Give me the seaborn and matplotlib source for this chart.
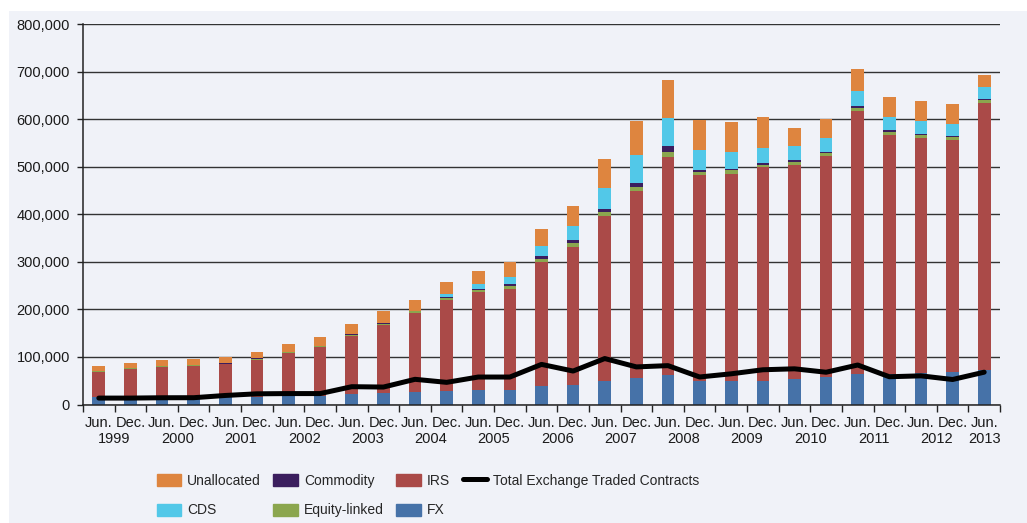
import numpy as np
import pandas as pd
import matplotlib.pyplot as plt
import seaborn as sns
from matplotlib.patches import Patch, Rectangle
from matplotlib.lines import Line2D
from matplotlib import font_manager
from matplotlib.ticker import FuncFormatter

# Semiannual periods, Jun. 1999 - Jun. 2013 (notional amounts, USD bn)
periods = [f'{h} {y}' for y in range(1999, 2014) for h in ('Jun.', 'Dec.')][:-1]
halves = [p.split()[0] for p in periods]
years = [str(y) for y in range(1999, 2014)]

fx = [14899, 14344, 15494, 15666, 16910, 16748, 18068, 18448, 22071, 24475,
      26997, 29289, 31081, 31364, 38127, 40271, 48645, 56238, 62983, 50042,
      48732, 49181, 53153, 57796, 64698, 63349, 66645, 67358, 73121]
irs = [54072, 60091, 64125, 64668, 67465, 77568, 89955, 101658, 121799, 141991,
       164626, 190502, 204795, 211970, 261960, 291581, 347312, 393138, 458304, 432657,
       437228, 449875, 451831, 465260, 553240, 504117, 494018, 489703, 561299]
equity = [1511, 1809, 1645, 1891, 1884, 1881, 2214, 2309, 2799, 3787,
          4521, 4385, 4551, 5793, 6782, 7488, 8590, 8469, 10177, 6471,
          6584, 5937, 6260, 5635, 6841, 5982, 6313, 6251, 6821]
commodity = [441, 548, 584, 662, 590, 598, 777, 923, 1040, 1406,
             1270, 1443, 2940, 5434, 6394, 7115, 7567, 8455, 13229, 4427,
             3619, 2944, 2852, 2922, 3197, 3091, 2994, 2587, 2458]
cds = [0, 0, 0, 0, 0, 0, 0, 0, 0, 0,
       0, 6396, 10211, 13908, 20352, 28650, 42580, 58244, 57403, 41883,
       36046, 32693, 30261, 29898, 32409, 28626, 26931, 25069, 24349]
unallocated = [10535, 11410, 12160, 12312, 12906, 14383, 16495, 18327, 21949, 25508,
               22644, 26613, 27915, 30791, 36563, 43026, 61713, 71194, 81718, 62667,
               62286, 63270, 38328, 39535, 46499, 42597, 42027, 41614, 24860]
exchange = [13500, 13500, 14200, 14300, 19000, 22500, 23000, 23000, 37500, 36700,
            53000, 46600, 57800, 57800, 84400, 70400, 96700, 79100, 81800, 57900,
            64600, 73100, 75100, 67900, 83100, 58400, 60300, 52600, 68000]

df = pd.DataFrame({'period': periods, 'FX': fx, 'IRS': irs, 'Equity-linked': equity,
                   'Commodity': commodity, 'CDS': cds, 'Unallocated': unallocated})
layers = ['FX', 'IRS', 'Equity-linked', 'Commodity', 'CDS', 'Unallocated']
colors = {'FX': '#4672a8', 'IRS': '#aa4a48', 'Equity-linked': '#8ba64e',
          'Commodity': '#3b1e5e', 'CDS': '#52c8e8', 'Unallocated': '#de853f'}
cum = df[layers].cumsum(axis=1)

sns.set_style('ticks')
plt.rcParams['font.family'] = ['Liberation Sans', 'DejaVu Sans']
names = {f.name for f in font_manager.fontManager.ttflist}
narrow = 'Liberation Sans Narrow' in names
legend_font = 'Liberation Sans Narrow' if narrow else 'Liberation Sans'

bg = '#f0f2f8'
W, H = 1027, 523
fig = plt.figure(figsize=(W / 100, H / 100), dpi=100)
fig.patch.set_facecolor('white')
fig.add_artist(Rectangle((9 / W, 0), 1, 1 - 11 / H, transform=fig.transFigure,
                         facecolor=bg, edgecolor='none', zorder=-1))
ax = fig.add_axes([83 / W, 1 - 404.5 / H, (1000 - 83) / W, (404.5 - 24.3) / H])
ax.set_facecolor(bg)

# stacked bars: draw cumulative totals from the top layer down
for name in reversed(layers):
    sns.barplot(x=df['period'], y=cum[name], order=periods, color=colors[name],
                width=0.4, saturation=1, errorbar=None, linewidth=0, ax=ax, zorder=2)

sns.lineplot(x=np.arange(len(periods)), y=exchange, color='black', lw=3.6,
             solid_capstyle='round', ax=ax, zorder=5)

ax.set_xlim(-0.5, len(periods) - 0.5)
ax.set_ylim(0, 800000)
ax.set_xlabel('')
ax.set_ylabel('')

ax.set_yticks(np.arange(0, 800001, 100000))
ax.yaxis.set_major_formatter(FuncFormatter(lambda v, p: f'{v:,.0f}'))
ax.yaxis.grid(True, color='#333333', lw=1.0, zorder=0)
ax.set_axisbelow(True)
ax.tick_params(axis='y', length=4, width=1, pad=5.5, labelsize=10.5, color='#222222',
               labelcolor='#1a1a1a')

ax.set_xticks(np.arange(-0.5, len(periods), 1))
ax.set_xticklabels([])
ax.tick_params(axis='x', which='major', length=5, width=1, color='#222222')
ax.set_xticks(np.arange(len(periods)), minor=True)
ax.set_xticklabels(halves, minor=True)
ax.tick_params(axis='x', which='minor', length=0, pad=8.5, labelsize=10.5, labelcolor='#1a1a1a')

for i, yr in enumerate(years):
    x = 2 * i + 0.5 if i < len(years) - 1 else 2 * i
    ax.annotate(yr, xy=(x, 0), xycoords=('data', 'axes fraction'), xytext=(0, -19.5),
                textcoords='offset points', ha='center', va='top', fontsize=10.5,
                color='#1a1a1a')

for s in ['top', 'right']:
    ax.spines[s].set_visible(False)
for s in ['left', 'bottom']:
    ax.spines[s].set_color('#222222')
    ax.spines[s].set_linewidth(1.1)

handles = [Patch(color=colors['Unallocated'], label='Unallocated'),
           Patch(color=colors['CDS'], label='CDS'),
           Patch(color=colors['Commodity'], label='Commodity'),
           Patch(color=colors['Equity-linked'], label='Equity-linked'),
           Patch(color=colors['IRS'], label='IRS'),
           Patch(color=colors['FX'], label='FX'),
           Line2D([], [], color='black', lw=3.6, solid_capstyle='round',
                  label='Total Exchange Traded Contracts')]
leg_size = 10.5 if narrow else 10
fig.legend(handles=handles, ncol=4, loc='center', bbox_to_anchor=(428 / W, 1 - 495.5 / H),
           frameon=False, prop={'family': legend_font, 'size': leg_size},
           handlelength=1.75, handleheight=0.95, handletextpad=0.45,
           columnspacing=0.9, labelspacing=1.15)

fig.savefig('out.png', dpi=100, facecolor=fig.get_facecolor())
